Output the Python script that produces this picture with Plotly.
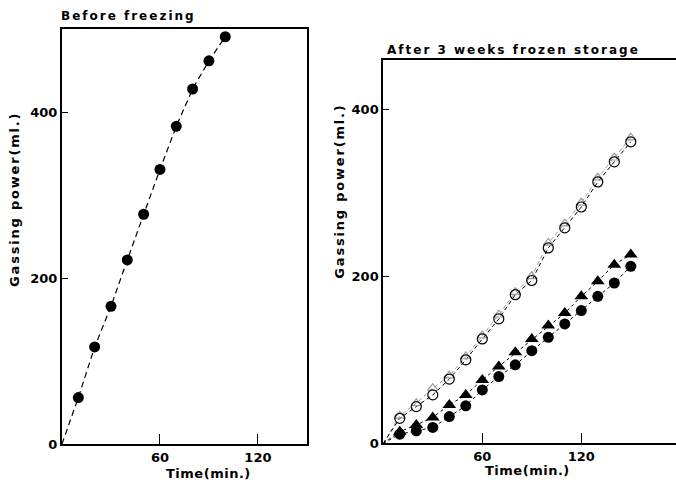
import plotly.graph_objects as go

# ---- data ----
time_before = [10, 20, 30, 40, 50, 60, 70, 80, 90, 100]
gas_before = [56, 117, 166, 222, 277, 331, 383, 428, 462, 491]

time_after = [10, 20, 30, 40, 50, 60, 70, 80, 90, 100, 110, 120, 130, 140, 150]
gas_filled_circle = [11, 15, 19, 32, 45, 64, 80, 94, 111, 127, 143, 159, 176, 192, 212]
gas_filled_triangle = [14, 22, 31, 46, 58, 76, 92, 109, 125, 141, 156, 176, 194, 214, 226]
gas_open_circle = [30, 44, 58, 77, 100, 125, 149, 178, 195, 234, 258, 283, 313, 337, 361]
gas_open_triangle = [33, 48, 66, 81, 104, 129, 154, 181, 200, 240, 263, 288, 318, 342, 366]

y_ticks = [0, 200, 400]
x_ticks = [60, 120]

title_left = "Before freezing"
title_right = "After 3 weeks frozen storage"
y_title = "Gassing power(ml.)"
x_title = "Time(min.)"

FONT = "DejaVu Sans"


def spaced(text, px):
    return '<span style="letter-spacing:%spx">%s</span>' % (px, text)


fig = go.Figure()

# ---- left panel ----
fig.add_trace(go.Scatter(x=[0] + time_before, y=[0] + gas_before, mode="lines",
                         line=dict(color="black", width=1.2, dash="6px,4px"),
                         xaxis="x", yaxis="y", showlegend=False, hoverinfo="skip"))
fig.add_trace(go.Scatter(x=time_before, y=gas_before, mode="markers",
                         marker=dict(symbol="circle", size=11, color="black"),
                         xaxis="x", yaxis="y", showlegend=False))

# ---- right panel ----
series = [
    (gas_open_triangle, "triangle-up-open", "#9a9a9a", "4px,3px", 9),
    (gas_open_circle, "circle-open", "black", "4px,3px", 10),
    (gas_filled_triangle, "triangle-up", "black", "3px,3px", 12),
    (gas_filled_circle, "circle", "black", "3px,3px", 11),
]
for vals, sym, col, dash, sz in series:
    fig.add_trace(go.Scatter(x=[0] + time_after, y=[0] + vals, mode="lines",
                             line=dict(color=col, width=1, dash=dash),
                             xaxis="x2", yaxis="y2", showlegend=False, hoverinfo="skip"))
for vals, sym, col, dash, sz in series:
    if "open" in sym:
        mk = dict(symbol=sym, size=sz, color=col, line=dict(color=col, width=1.2))
    else:
        mk = dict(symbol=sym, size=sz, color=col)
    fig.add_trace(go.Scatter(x=time_after, y=vals, mode="markers", marker=mk,
                             xaxis="x2", yaxis="y2", showlegend=False))

axis_font = dict(family=FONT, size=13, color="black", weight="bold")

common_x = dict(tickvals=x_ticks, ticks="inside", ticklen=10, tickwidth=1.2,
                tickcolor="black", showline=True, linecolor="black", linewidth=2,
                showgrid=False, zeroline=False, tickfont=axis_font, automargin=False)
common_y = dict(tickvals=y_ticks, ticks="inside", ticklen=6, tickwidth=1.2,
                tickcolor="black", showline=True, linecolor="black", linewidth=2,
                showgrid=False, zeroline=False, tickfont=axis_font, automargin=False)

tfont12 = dict(family=FONT, size=12, color="black", weight="bold")
tfont13 = dict(family=FONT, size=13, color="black", weight="bold")

fig.update_layout(
    width=676, height=484,
    margin=dict(l=0, r=0, t=0, b=0, pad=0),
    paper_bgcolor="white", plot_bgcolor="white",
    xaxis=dict(domain=[0.0917, 0.454], range=[0, 150], mirror=True, anchor="y", **common_x),
    yaxis=dict(domain=[0.0826, 0.9395], range=[0, 500], mirror=True, anchor="x", **common_y),
    xaxis2=dict(domain=[0.567, 1.0], range=[0, 177.4], mirror=True, anchor="y2", **common_x),
    yaxis2=dict(domain=[0.084, 0.876], range=[0, 459], mirror=False, anchor="x2", **common_y),
    annotations=[
        dict(text=spaced(title_left, 2), x=59 / 676, y=0.967, xref="paper", yref="paper",
             xanchor="left", yanchor="middle", showarrow=False, font=tfont12),
        dict(text=spaced(title_right, 2), x=385 / 676, y=0.8967, xref="paper", yref="paper",
             xanchor="left", yanchor="middle", showarrow=False, font=tfont12),
        dict(text=spaced(y_title, 1.8), x=15 / 676, y=0.587, xref="paper", yref="paper",
             xanchor="center", yanchor="middle", textangle=-90, showarrow=False, font=tfont13),
        dict(text=spaced(y_title, 1.8), x=340 / 676, y=0.604, xref="paper", yref="paper",
             xanchor="center", yanchor="middle", textangle=-90, showarrow=False, font=tfont13),
        dict(text=spaced(x_title, 0.5), x=208 / 676, y=0.0227, xref="paper", yref="paper",
             xanchor="center", yanchor="middle", showarrow=False, font=tfont13),
        dict(text=spaced(x_title, 0.5), x=527 / 676, y=0.0289, xref="paper", yref="paper",
             xanchor="center", yanchor="middle", showarrow=False, font=tfont13),
    ],
)

post_js = """
document.documentElement.style.margin = '0';
document.documentElement.style.overflow = 'hidden';
document.body.style.margin = '0';
document.body.style.overflow = 'hidden';
"""

fig.write_html("out.html", config={"displayModeBar": False}, post_script=post_js)
